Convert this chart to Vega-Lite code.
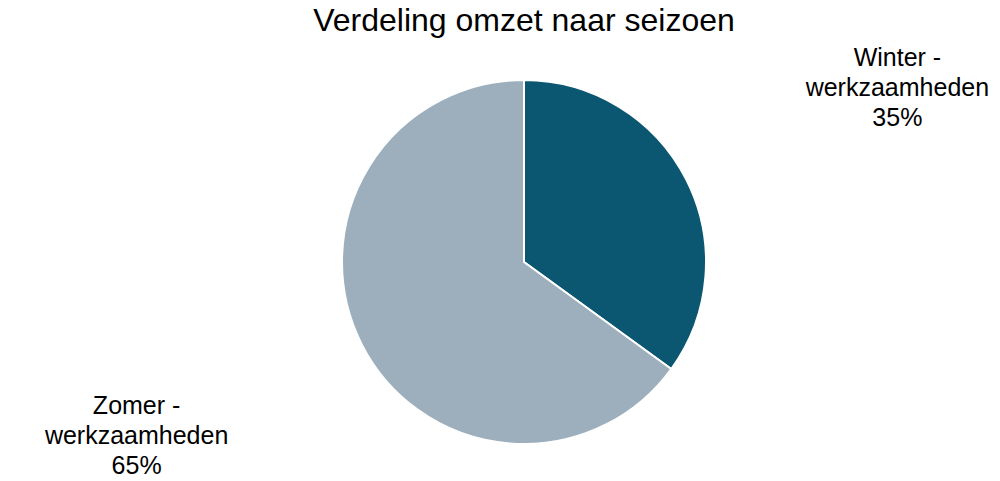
{
  "$schema": "https://vega.github.io/schema/vega-lite/v6.json",
  "width": 1000,
  "height": 481,
  "autosize": {"type": "fit", "contains": "padding"},
  "padding": {"left": 48, "right": 0, "top": 10, "bottom": 0},
  "background": "white",
  "title": {
    "text": "Verdeling omzet naar seizoen",
    "font": "Liberation Sans",
    "fontSize": 32,
    "fontWeight": "normal",
    "color": "#000000",
    "anchor": "middle",
    "offset": 0
  },
  "data": {
    "values": [
      {"seizoen": "Winter - werkzaamheden", "label": "Winter -\nwerkzaamheden\n35%", "aandeel": 35, "volgorde": 1},
      {"seizoen": "Zomer - werkzaamheden", "label": "Zomer -\nwerkzaamheden\n65%", "aandeel": 65, "volgorde": 2}
    ]
  },
  "encoding": {
    "theta": {"field": "aandeel", "type": "quantitative", "stack": true},
    "order": {"field": "volgorde", "type": "quantitative"}
  },
  "layer": [
    {
      "mark": {"type": "arc", "outerRadius": 182, "stroke": "white", "strokeWidth": 2},
      "encoding": {
        "color": {
          "field": "seizoen",
          "type": "nominal",
          "scale": {
            "domain": ["Winter - werkzaamheden", "Zomer - werkzaamheden"],
            "range": ["#0B5670", "#9DAFBD"]
          },
          "legend": null
        }
      }
    },
    {
      "mark": {
        "type": "text",
        "radius": 391,
        "dx": 25,
        "dy": -26,
        "lineBreak": "\n",
        "font": "Liberation Sans",
        "fontSize": 25,
        "lineHeight": 30,
        "align": "center",
        "baseline": "middle",
        "color": "#000000"
      },
      "encoding": {
        "text": {"field": "label", "type": "nominal"},
        "opacity": {"condition": {"test": "datum.volgorde == 1", "value": 1}, "value": 0}
      }
    },
    {
      "mark": {
        "type": "text",
        "radius": 391,
        "dx": -39,
        "dy": -34,
        "lineBreak": "\n",
        "font": "Liberation Sans",
        "fontSize": 25,
        "lineHeight": 30,
        "align": "center",
        "baseline": "middle",
        "color": "#000000"
      },
      "encoding": {
        "text": {"field": "label", "type": "nominal"},
        "opacity": {"condition": {"test": "datum.volgorde == 2", "value": 1}, "value": 0}
      }
    }
  ]
}
